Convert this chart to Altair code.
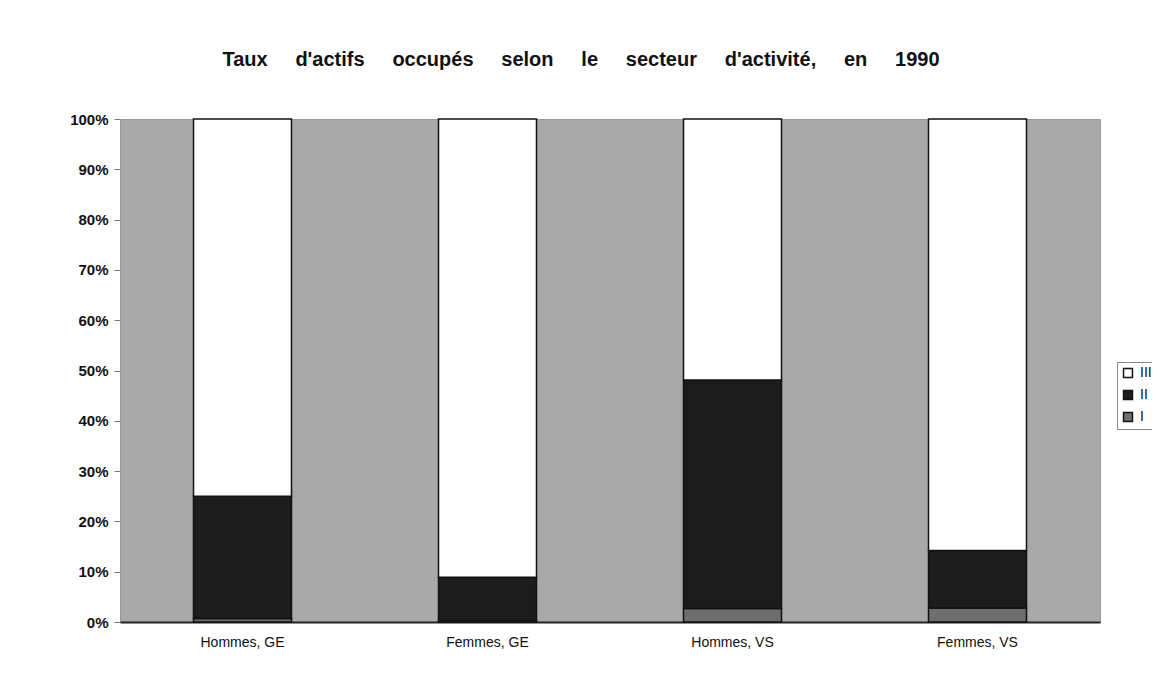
import altair as alt
import pandas as pd

categories = ["Hommes, GE", "Femmes, GE", "Hommes, VS", "Femmes, VS"]
sector_I = [0.7, 0.2, 2.7, 2.8]
sector_II = [24.3, 8.7, 45.4, 11.4]
sector_III = [75.0, 91.1, 51.9, 85.8]
sectors = ["III", "II", "I"]
gap = "\u00a0" * 5
title_text = gap.join(["Taux", "d'actifs", "occupés", "selon", "le", "secteur", "d'activité,", "en", "1990"])

rows = []
for i, c in enumerate(categories):
    for s, vals, o in (("I", sector_I, 0), ("II", sector_II, 1), ("III", sector_III, 2)):
        rows.append({"cat": c, "sector": s, "value": vals[i] / 100.0, "ord": o})
df = pd.DataFrame(rows)

bars = alt.Chart(df).mark_bar(stroke="#111111", strokeWidth=1.5).encode(
    x=alt.X("cat:N", sort=categories, title=None,
            scale=alt.Scale(paddingInner=0.6, paddingOuter=0.3),
            axis=alt.Axis(labelAngle=0, labelFont="Liberation Sans", labelFontSize=14,
                          labelColor="#111111", ticks=False, domainColor="#222222",
                          domainWidth=2, labelPadding=13)),
    y=alt.Y("value:Q", stack="zero", title=None,
            scale=alt.Scale(domain=[0, 1]),
            axis=alt.Axis(format=".0%", values=[i / 10 for i in range(11)], grid=False,
                          labelFont="Liberation Sans", labelFontSize=15, labelFontWeight="bold",
                          labelColor="#111111", domain=False, tickColor="#777777",
                          tickSize=6, labelPadding=6)),
    color=alt.Color("sector:N", sort=sectors,
                    scale=alt.Scale(domain=sectors, range=["#ffffff", "#1c1c1c", "#6e6e6e"]),
                    legend=alt.Legend(title=None, orient="none", legendX=997, legendY=243,
                                      symbolType="square", symbolSize=80, symbolStrokeColor="#111111",
                                      symbolStrokeWidth=1.5, labelFont="Liberation Sans",
                                      labelFontSize=14, labelColor="#111111", labelOffset=5,
                                      strokeColor="#888888", padding=4, rowPadding=6)),
    order=alt.Order("ord:Q"),
)

chart = bars.properties(
    width=980, height=503,
    title=alt.TitleParams(title_text, font="Liberation Sans", fontSize=20, fontWeight="bold",
                          color="#111111", anchor="middle", offset=42, dx=-29),
    autosize="none",
    padding={"left": 112, "top": 111, "right": 52, "bottom": 40},
).configure_view(fill="#a9a9a9", stroke="#999999")

chart.save("out.html", embed_options={"renderer": "svg", "actions": False})
